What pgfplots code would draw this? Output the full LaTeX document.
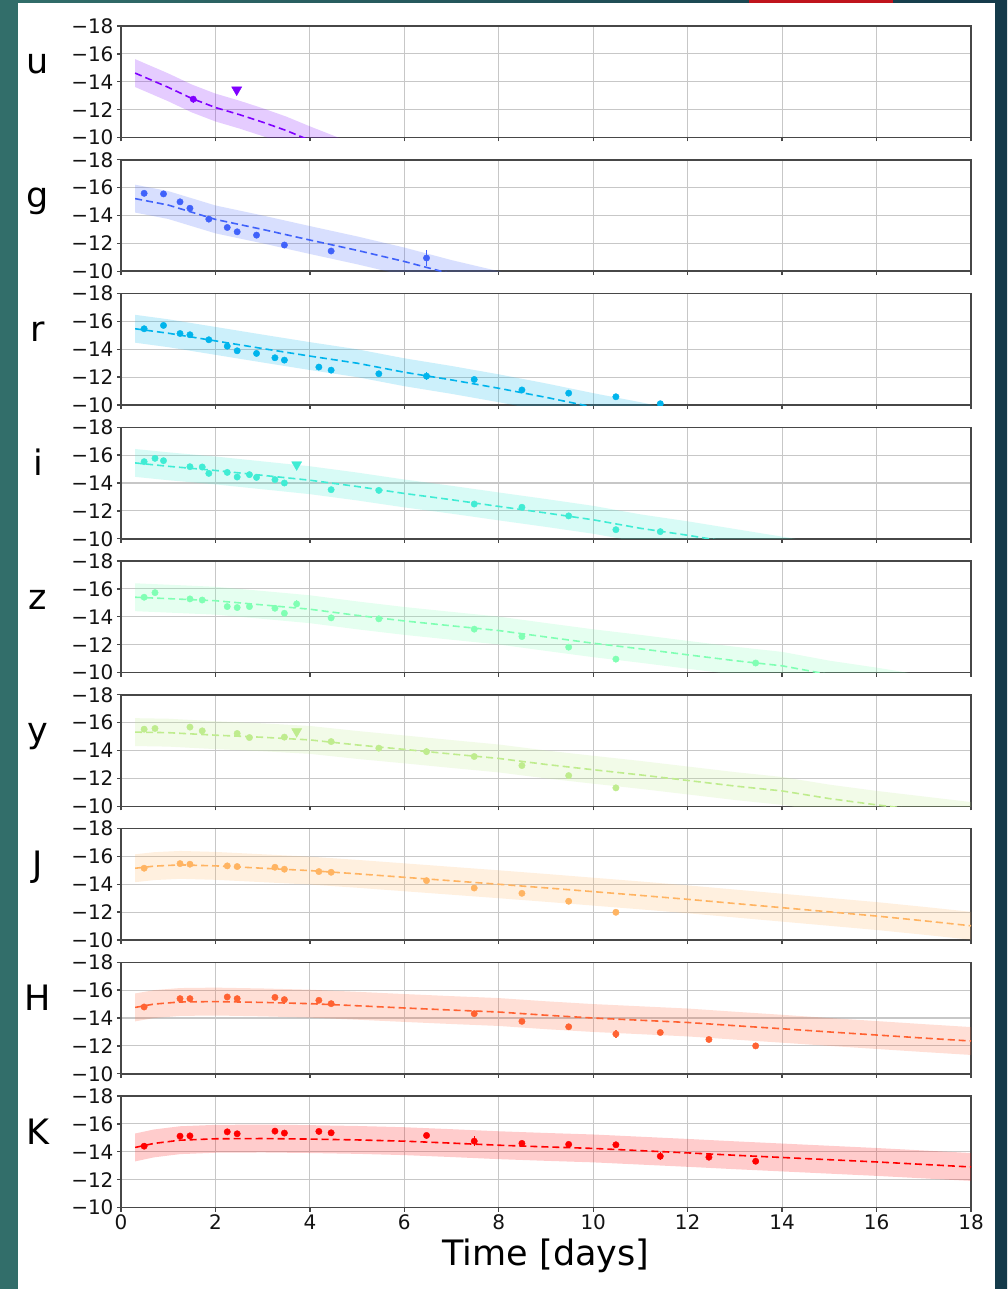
\documentclass[border=0pt]{standalone}
\usepackage{fontspec}
\setmainfont{DejaVu Sans}
\usepackage{pgfplots}
\pgfplotsset{compat=1.18}
\usepackage{pgfplotstable}

% band colours (rainbow colormap, u ... K)
\definecolor{cU}{RGB}{128,0,255}
\definecolor{cG}{RGB}{64,98,250}
\definecolor{cR}{RGB}{0,180,236}
\definecolor{cI}{RGB}{64,236,212}
\definecolor{cZ}{RGB}{128,255,180}
\definecolor{cY}{RGB}{191,236,142}
\definecolor{cJ}{RGB}{255,180,98}
\definecolor{cH}{RGB}{255,98,50}
\definecolor{cK}{RGB}{255,0,0}
\definecolor{bgL}{RGB}{50,110,106}
\definecolor{bgR}{RGB}{20,58,74}
\definecolor{barred}{RGB}{192,20,28}

% ---------- model median light curves ----------
\pgfplotstableread{
t m
0.3 -14.62
1.0 -13.60
1.5 -12.80
2.0 -12.15
2.5 -11.65
3.0 -11.10
3.5 -10.50
4.0 -9.80
4.6 -9.00
5.0 -8.50
}\mU
\pgfplotstableread{
t m
0.3 -15.21
1 -14.75
2 -13.72
3 -13.00
4 -12.24
5 -11.50
6 -10.70
7 -9.80
8 -9.00
9 -8.20
}\mG
\pgfplotstableread{
t m
0.3 -15.47
1 -15.15
2 -14.60
3 -14.05
4 -13.51
5 -13.00
6 -12.35
7 -11.80
8 -11.20
9 -10.55
10 -9.85
11 -9.20
12 -8.50
}\mR
\pgfplotstableread{
t m
0.3 -15.44
1 -15.20
2 -14.90
3 -14.55
4 -14.20
5 -13.75
6 -13.25
7 -12.80
8 -12.32
9 -11.85
10 -11.36
11 -10.75
12 -10.25
13 -9.70
14 -9.15
15 -8.60
}\mI
\pgfplotstableread{
t m
0.3 -15.40
1 -15.30
2 -15.15
3 -14.85
4 -14.54
5 -14.10
6 -13.70
7 -13.35
8 -13.01
9 -12.55
10 -12.10
11 -11.70
12 -11.27
13 -10.85
14 -10.48
15 -9.85
16 -9.35
17 -8.80
18 -8.30
}\mZ
\pgfplotstableread{
t m
0.3 -15.32
1 -15.28
2 -15.10
3 -14.95
4 -14.76
5 -14.40
6 -14.08
7 -13.75
8 -13.43
9 -13.00
10 -12.62
11 -12.25
12 -11.85
13 -11.45
14 -11.10
15 -10.55
16 -10.10
17 -9.70
18 -9.30
}\mY
\pgfplotstableread{
t m
0.3 -15.15
0.7 -15.30
1.25 -15.39
2 -15.32
3 -15.15
4 -14.98
5 -14.75
6 -14.50
7 -14.25
8 -14.00
9 -13.74
10 -13.47
11 -13.20
12 -12.92
13 -12.62
14 -12.32
15 -12.02
16 -11.72
17 -11.38
18 -11.02
}\mJ
\pgfplotstableread{
t m
0.3 -14.76
0.7 -15.00
1.25 -15.15
2 -15.18
3 -15.12
4 -15.03
5 -14.88
6 -14.72
7 -14.57
8 -14.43
9 -14.20
10 -14.00
11 -13.84
12 -13.68
13 -13.45
14 -13.23
15 -13.00
16 -12.78
17 -12.56
18 -12.35
}\mH
\pgfplotstableread{
t m
0.3 -14.31
0.7 -14.60
1.25 -14.83
2 -14.93
3 -14.95
4 -14.91
5 -14.85
6 -14.76
7 -14.62
8 -14.47
9 -14.35
10 -14.24
11 -14.08
12 -13.92
13 -13.75
14 -13.59
15 -13.43
16 -13.27
17 -13.09
18 -12.91
}\mK

% ---------- photometry: t, abs. magnitude, error ----------
\pgfplotstableread{
t m e
1.53 -12.75 0.25
}\oU
\pgfplotstableread{
t m e
0.49 -15.59 0.08
0.90 -15.55 0.08
1.25 -14.98 0.08
1.46 -14.52 0.08
1.86 -13.74 0.08
2.25 -13.14 0.08
2.46 -12.83 0.08
2.87 -12.59 0.08
3.46 -11.88 0.08
4.45 -11.45 0.08
6.47 -10.95 0.55
}\oG
\pgfplotstableread{
t m e
0.49 -15.47 0.08
0.90 -15.71 0.08
1.25 -15.13 0.08
1.46 -15.04 0.08
1.86 -14.68 0.08
2.25 -14.22 0.15
2.46 -13.89 0.08
2.87 -13.70 0.08
3.26 -13.39 0.08
3.46 -13.22 0.08
4.19 -12.72 0.20
4.45 -12.50 0.08
5.46 -12.24 0.15
6.47 -12.07 0.30
7.48 -11.83 0.15
8.49 -11.08 0.10
9.48 -10.85 0.08
10.48 -10.59 0.08
11.42 -10.09 0.08
}\oR
\pgfplotstableread{
t m e
0.49 -15.53 0.08
0.72 -15.77 0.08
0.90 -15.60 0.15
1.46 -15.17 0.08
1.72 -15.15 0.08
1.86 -14.69 0.08
2.25 -14.76 0.15
2.46 -14.43 0.08
2.72 -14.60 0.08
2.87 -14.40 0.15
3.26 -14.24 0.15
3.46 -14.00 0.08
4.45 -13.52 0.08
5.46 -13.47 0.08
7.48 -12.49 0.08
8.49 -12.26 0.08
9.48 -11.64 0.08
10.48 -10.65 0.08
11.42 -10.51 0.08
}\oI
\pgfplotstableread{
t m e
0.49 -15.40 0.08
0.72 -15.73 0.08
1.46 -15.28 0.08
1.72 -15.20 0.08
2.25 -14.73 0.20
2.46 -14.66 0.08
2.72 -14.73 0.15
3.26 -14.61 0.20
3.46 -14.25 0.08
3.72 -14.92 0.25
4.45 -13.92 0.08
5.46 -13.85 0.08
7.48 -13.11 0.08
8.49 -12.58 0.08
9.48 -11.82 0.08
10.48 -10.96 0.08
13.44 -10.68 0.20
}\oZ
\pgfplotstableread{
t m e
0.49 -15.53 0.08
0.72 -15.58 0.15
1.46 -15.68 0.08
1.72 -15.41 0.08
2.46 -15.22 0.08
2.72 -14.93 0.08
3.46 -14.96 0.08
4.45 -14.64 0.08
5.46 -14.17 0.08
6.47 -13.92 0.25
7.48 -13.57 0.08
8.49 -12.92 0.08
9.48 -12.20 0.08
10.48 -11.32 0.08
}\oY
\pgfplotstableread{
t m e
0.49 -15.15 0.08
1.25 -15.48 0.08
1.46 -15.44 0.08
2.25 -15.32 0.08
2.46 -15.27 0.08
3.26 -15.22 0.08
3.46 -15.08 0.08
4.19 -14.91 0.08
4.45 -14.86 0.08
6.47 -14.26 0.08
7.48 -13.73 0.15
8.49 -13.35 0.08
9.48 -12.78 0.08
10.48 -11.99 0.08
}\oJ
\pgfplotstableread{
t m e
0.49 -14.79 0.10
1.25 -15.39 0.08
1.46 -15.39 0.08
2.25 -15.51 0.08
2.46 -15.39 0.08
3.26 -15.48 0.08
3.46 -15.32 0.08
4.19 -15.27 0.08
4.45 -15.03 0.08
7.48 -14.31 0.08
8.49 -13.76 0.08
9.48 -13.37 0.08
10.48 -12.85 0.30
11.42 -12.96 0.08
12.45 -12.46 0.08
13.44 -12.00 0.08
}\oH
\pgfplotstableread{
t m e
0.49 -14.40 0.10
1.25 -15.12 0.08
1.46 -15.14 0.08
2.25 -15.43 0.08
2.46 -15.29 0.08
3.26 -15.48 0.08
3.46 -15.34 0.08
4.19 -15.46 0.08
4.45 -15.36 0.08
6.47 -15.17 0.08
7.48 -14.76 0.35
8.49 -14.60 0.08
9.48 -14.53 0.08
10.48 -14.50 0.08
11.42 -13.68 0.30
12.45 -13.61 0.15
13.44 -13.32 0.08
}\oK

\pgfplotsset{
  panel/.style={
    anchor=north west, scale only axis, width=850pt, height=111.5pt,
    xmin=0, xmax=18, ymin=-18, ymax=-10, y dir=reverse,
    xtick={0,2,4,6,8,10,12,14,16,18},
    ytick={-18,-16,-14,-12,-10},
    yticklabels={−18,−16,−14,−12,−10},
    xticklabels={},
    tick pos=left, tick align=outside, major tick length=4pt,
    grid=major, major grid style={line width=1.2pt, draw=black!22},
    axis line style={line width=1.5pt, draw=black!72},
    every tick/.style={line width=1.3pt, draw=black!72},
    tick label style={font=\fontsize{20}{24}\selectfont, text=black!92},
    clip marker paths=true,
  },
  band/.style={draw=none, fill opacity=0.2},
  model/.style={line width=1.6pt, dash pattern=on 7pt off 4pt},
  obs/.style={only marks, mark=*, mark size=3.2pt,
    error bars/y dir=both, error bars/y explicit,
    error bars/error mark=none,
    error bars/error bar style={line width=1.4pt}},
  ulim/.style={only marks, mark=triangle*, mark size=5.8pt,
    mark options={rotate=180}},
}

% model median and photometry of one band: #1 colour, #2 model, #3 data
\newcommand{\bandcurve}[3]{%
  \addplot[#1, model] table[x=t, y=m] {#2};
  \addplot[#1, obs] table[x=t, y=m, y error=e] {#3};
}

\newcommand{\bandname}[2]{%
  \node[anchor=base, font=\fontsize{35}{40}\selectfont] at (38pt,{-#1pt-48pt}) {#2};}

\begin{document}
\begin{tikzpicture}
  % slide background and page
  \fill[left color=bgL, right color=bgR] (0pt,0pt) rectangle (1007pt,-1289pt);
  \fill[white] (18pt,-3pt) rectangle (995pt,-1289pt);
  \fill[barred] (749pt,0pt) rectangle (893pt,-3pt);

  \begin{axis}[panel, at={(121pt,-26pt)}]
    \addplot[band, fill=cU] coordinates {
      (0.3,-15.62) (1.0,-14.60) (1.5,-13.80) (2.0,-13.15) (2.5,-12.65)
      (3.0,-12.10) (3.5,-11.50) (4.0,-10.80) (4.6,-10.00) (5.0,-9.50)
      (5.0,-7.50) (4.6,-8.00) (4.0,-8.80) (3.5,-9.50) (3.0,-10.10)
      (2.5,-10.65) (2.0,-11.15) (1.5,-11.80) (1.0,-12.60) (0.3,-13.62)} -- cycle;
    \bandcurve{cU}{\mU}{\oU}
    \addplot[cU, ulim] coordinates {(2.45,-13.42)};
  \end{axis}
  \bandname{26}{u}

  \begin{axis}[panel, at={(121pt,-159.75pt)}]
    \addplot[band, fill=cG] coordinates {
      (0.3,-16.21) (1,-15.75) (2,-14.72) (3,-14.00) (4,-13.24) (5,-12.50)
      (6,-11.70) (7,-10.80) (8,-10.00) (9,-9.20)
      (9,-7.20) (8,-8.00) (7,-8.80) (6,-9.70) (5,-10.50) (4,-11.24)
      (3,-12.00) (2,-12.72) (1,-13.75) (0.3,-14.21)} -- cycle;
    \bandcurve{cG}{\mG}{\oG}
  \end{axis}
  \bandname{159.75}{g}

  \begin{axis}[panel, at={(121pt,-293.5pt)}]
    \addplot[band, fill=cR] coordinates {
      (0.3,-16.47) (1,-16.15) (2,-15.60) (3,-15.05) (4,-14.51) (5,-14.00)
      (6,-13.35) (7,-12.80) (8,-12.20) (9,-11.55) (10,-10.85) (11,-10.20) (12,-9.50)
      (12,-7.50) (11,-8.20) (10,-8.85) (9,-9.55) (8,-10.20) (7,-10.80)
      (6,-11.35) (5,-12.00) (4,-12.51) (3,-13.05) (2,-13.60) (1,-14.15) (0.3,-14.47)} -- cycle;
    \bandcurve{cR}{\mR}{\oR}
  \end{axis}
  \bandname{293.5}{r}

  \begin{axis}[panel, at={(121pt,-427.25pt)}]
    \addplot[band, fill=cI] coordinates {
      (0.3,-16.44) (1,-16.20) (2,-15.90) (3,-15.55) (4,-15.20) (5,-14.75)
      (6,-14.25) (7,-13.80) (8,-13.32) (9,-12.85) (10,-12.36) (11,-11.75)
      (12,-11.25) (13,-10.70) (14,-10.15) (15,-9.60)
      (15,-7.60) (14,-8.15) (13,-8.70) (12,-9.25) (11,-9.75) (10,-10.36)
      (9,-10.85) (8,-11.32) (7,-11.80) (6,-12.25) (5,-12.75) (4,-13.20)
      (3,-13.55) (2,-13.90) (1,-14.20) (0.3,-14.44)} -- cycle;
    \bandcurve{cI}{\mI}{\oI}
    \addplot[cI, ulim] coordinates {(3.72,-15.32)};
  \end{axis}
  \bandname{427.25}{i}

  \begin{axis}[panel, at={(121pt,-561pt)}]
    \addplot[band, fill=cZ] coordinates {
      (0.3,-16.40) (1,-16.30) (2,-16.15) (3,-15.85) (4,-15.54) (5,-15.10)
      (6,-14.70) (7,-14.35) (8,-14.01) (9,-13.55) (10,-13.10) (11,-12.70)
      (12,-12.27) (13,-11.85) (14,-11.48) (15,-10.85) (16,-10.35) (17,-9.80) (18,-9.30)
      (18,-7.30) (17,-7.80) (16,-8.35) (15,-8.85) (14,-9.48) (13,-9.85)
      (12,-10.27) (11,-10.70) (10,-11.10) (9,-11.55) (8,-12.01) (7,-12.35)
      (6,-12.70) (5,-13.10) (4,-13.54) (3,-13.85) (2,-14.15) (1,-14.30) (0.3,-14.40)} -- cycle;
    \bandcurve{cZ}{\mZ}{\oZ}
  \end{axis}
  \bandname{561}{z}

  \begin{axis}[panel, at={(121pt,-694.75pt)}]
    \addplot[band, fill=cY] coordinates {
      (0.3,-16.32) (1,-16.28) (2,-16.10) (3,-15.95) (4,-15.76) (5,-15.40)
      (6,-15.08) (7,-14.75) (8,-14.43) (9,-14.00) (10,-13.62) (11,-13.25)
      (12,-12.85) (13,-12.45) (14,-12.10) (15,-11.55) (16,-11.10) (17,-10.70) (18,-10.30)
      (18,-8.30) (17,-8.70) (16,-9.10) (15,-9.55) (14,-10.10) (13,-10.45)
      (12,-10.85) (11,-11.25) (10,-11.62) (9,-12.00) (8,-12.43) (7,-12.75)
      (6,-13.08) (5,-13.40) (4,-13.76) (3,-13.95) (2,-14.10) (1,-14.28) (0.3,-14.32)} -- cycle;
    \bandcurve{cY}{\mY}{\oY}
    \addplot[cY, ulim] coordinates {(3.72,-15.36)};
  \end{axis}
  \bandname{694.75}{y}

  \begin{axis}[panel, at={(121pt,-828.5pt)}]
    \addplot[band, fill=cJ] coordinates {
      (0.3,-16.15) (0.7,-16.30) (1.25,-16.39) (2,-16.32) (3,-16.15) (4,-15.98)
      (5,-15.75) (6,-15.50) (7,-15.25) (8,-15.00) (9,-14.74) (10,-14.47)
      (11,-14.20) (12,-13.92) (13,-13.62) (14,-13.32) (15,-13.02) (16,-12.72)
      (17,-12.38) (18,-12.02)
      (18,-10.02) (17,-10.38) (16,-10.72) (15,-11.02) (14,-11.32) (13,-11.62)
      (12,-11.92) (11,-12.20) (10,-12.47) (9,-12.74) (8,-13.00) (7,-13.25)
      (6,-13.50) (5,-13.75) (4,-13.98) (3,-14.15) (2,-14.32) (1.25,-14.39)
      (0.7,-14.30) (0.3,-14.15)} -- cycle;
    \bandcurve{cJ}{\mJ}{\oJ}
  \end{axis}
  \bandname{828.5}{J}

  \begin{axis}[panel, at={(121pt,-962.25pt)}]
    \addplot[band, fill=cH] coordinates {
      (0.3,-15.76) (0.7,-16.00) (1.25,-16.15) (2,-16.18) (3,-16.12) (4,-16.03)
      (5,-15.88) (6,-15.72) (7,-15.57) (8,-15.43) (9,-15.20) (10,-15.00)
      (11,-14.84) (12,-14.68) (13,-14.45) (14,-14.23) (15,-14.00) (16,-13.78)
      (17,-13.56) (18,-13.35)
      (18,-11.35) (17,-11.56) (16,-11.78) (15,-12.00) (14,-12.23) (13,-12.45)
      (12,-12.68) (11,-12.84) (10,-13.00) (9,-13.20) (8,-13.43) (7,-13.57)
      (6,-13.72) (5,-13.88) (4,-14.03) (3,-14.12) (2,-14.18) (1.25,-14.15)
      (0.7,-14.00) (0.3,-13.76)} -- cycle;
    \bandcurve{cH}{\mH}{\oH}
  \end{axis}
  \bandname{962.25}{H}

  \begin{axis}[panel, at={(121pt,-1096pt)},
      xticklabels={0,2,4,6,8,10,12,14,16,18}]
    \addplot[band, fill=cK] coordinates {
      (0.3,-15.31) (0.7,-15.60) (1.25,-15.83) (2,-15.93) (3,-15.95) (4,-15.91)
      (5,-15.85) (6,-15.76) (7,-15.62) (8,-15.47) (9,-15.35) (10,-15.24)
      (11,-15.08) (12,-14.92) (13,-14.75) (14,-14.59) (15,-14.43) (16,-14.27)
      (17,-14.09) (18,-13.91)
      (18,-11.91) (17,-12.09) (16,-12.27) (15,-12.43) (14,-12.59) (13,-12.75)
      (12,-12.92) (11,-13.08) (10,-13.24) (9,-13.35) (8,-13.47) (7,-13.62)
      (6,-13.76) (5,-13.85) (4,-13.91) (3,-13.95) (2,-13.93) (1.25,-13.83)
      (0.7,-13.60) (0.3,-13.31)} -- cycle;
    \bandcurve{cK}{\mK}{\oK}
  \end{axis}
  \bandname{1096}{K}

  \node[anchor=base, font=\fontsize{35}{40}\selectfont] at (546pt,-1265pt) {Time [days]};

  \pgfresetboundingbox
  \path[use as bounding box] (0pt,0pt) rectangle (1007pt,-1289pt);
\end{tikzpicture}
\end{document}
